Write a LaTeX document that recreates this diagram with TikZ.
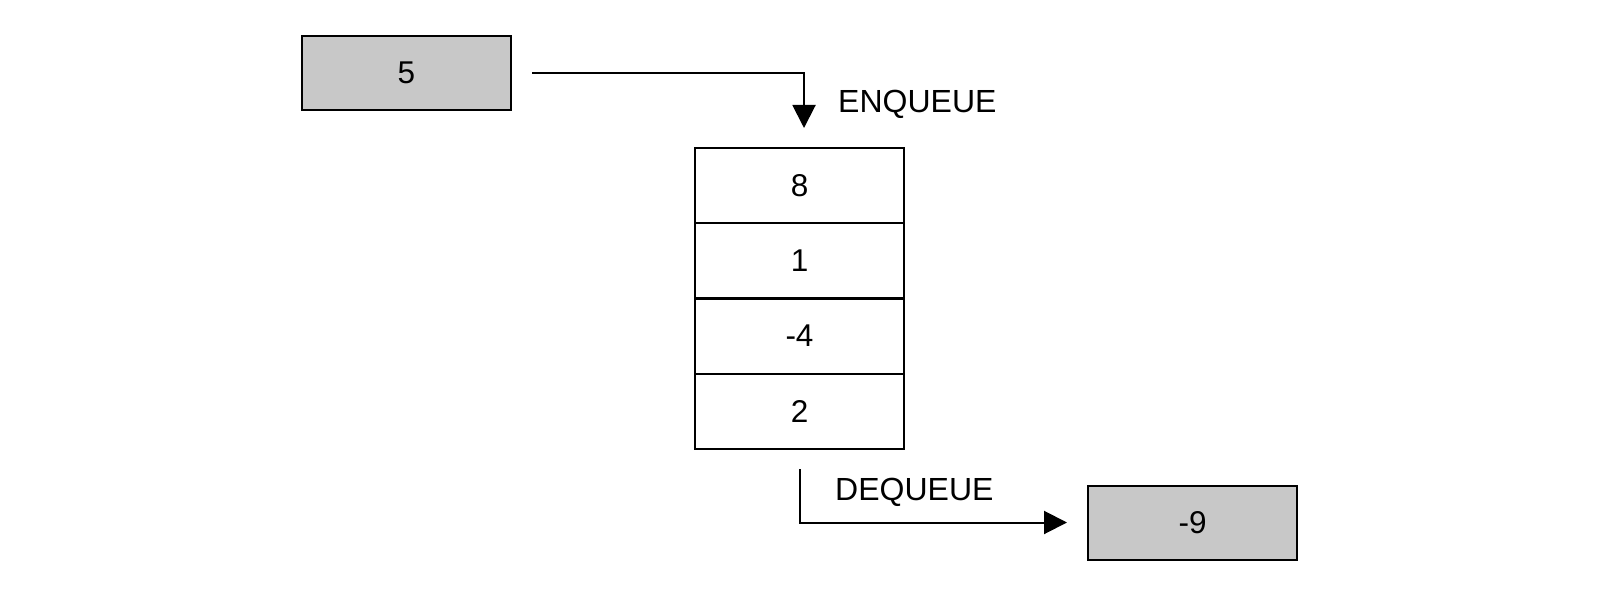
\documentclass[tikz,border=0pt]{standalone}
\usepackage{fontspec}
\setmainfont{Liberation Sans}
\usetikzlibrary{arrows.meta}
\definecolor{boxgray}{RGB}{200,200,200}
\begin{document}
\begin{tikzpicture}[x=1pt,y=-1pt,
  cell/.style={draw=black,line width=2pt,minimum width=209pt,minimum height=75.25pt,inner sep=0pt,font=\fontsize{31.5}{36}\selectfont},
  valbox/.style={cell,minimum height=74pt,fill=boxgray},
  lbl/.style={font=\fontsize{32}{36}\selectfont,inner sep=0pt,anchor=west},
  conn/.style={line width=2pt,-{Triangle[width=23pt,length=23pt]}}]
\useasboundingbox (0,0) rectangle (1600,596);
\node[valbox] (in) at (406.5,73) {5};
\node[cell] (c1) at (799.5,185.6) {8};
\node[cell] (c2) at (799.5,260.9) {1};
\node[cell] (c3) at (799.5,336.1) {-4};
\node[cell] (c4) at (799.5,411.4) {2};
\node[valbox] (out) at (1192.5,522.5) {-9};
\coordinate (es) at (532,73);
\coordinate (ee) at (804,128);
\coordinate (ds) at (800,469);
\coordinate (de) at (1067,522.5);
\draw[conn] (es) -| (ee);
\draw[conn] (ds) |- (de);
\node[lbl] (enq) at (838,104) {ENQUEUE};
\node[lbl] (deq) at (835,492) {DEQUEUE};
\end{tikzpicture}
\end{document}
